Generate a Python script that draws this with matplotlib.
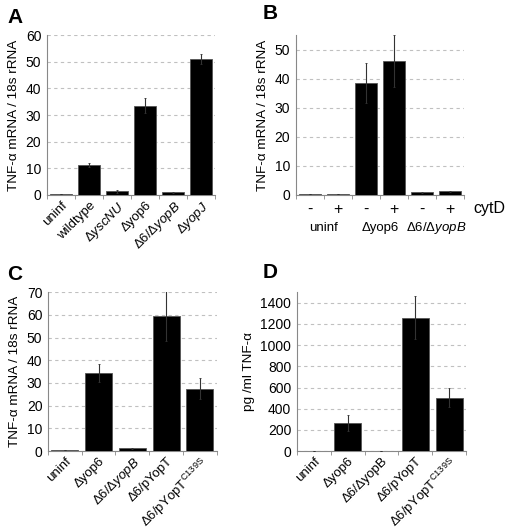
import matplotlib
matplotlib.use('Agg')
import matplotlib.pyplot as plt
import numpy as np

plt.rcParams['font.family'] = ['Liberation Sans', 'DejaVu Sans']
plt.rcParams['mathtext.fontset'] = 'custom'
plt.rcParams['mathtext.rm'] = 'Liberation Sans'
plt.rcParams['mathtext.it'] = 'Liberation Sans:italic'
plt.rcParams['font.size'] = 9.5

# panel A
a_labels = ['uninf', 'wildtype', r'Δ$\it{yscNU}$', 'Δyop6', r'Δ6/Δ$\it{yopB}$', r'Δ$\it{yopJ}$']
a_vals = [0.3, 11.3, 1.4, 33.5, 1.0, 51.0]
a_err = [0.1, 0.8, 0.5, 2.8, 0.3, 2.0]

# panel B
b_ticks = ['-', '+', '-', '+', '-', '+']
b_groups = ['uninf', 'Δyop6', r'Δ6/Δ$\it{yopB}$']
b_vals = [0.4, 0.4, 38.5, 46.0, 0.9, 1.2]
b_err = [0.1, 0.1, 7.0, 9.0, 0.2, 0.3]

# panel C
c_labels = ['uninf', 'Δyop6', r'Δ6/Δ$\it{yopB}$', 'Δ6/pYopT', r'Δ6/pYopT$^{\mathrm{C139S}}$']
c_vals = [0.5, 34.5, 1.2, 59.5, 27.5]
c_err = [0.1, 4.0, 0.3, 11.0, 4.5]

# panel D
d_labels = ['uninf', 'Δyop6', 'Δ6/ΔyopB', 'Δ6/pYopT', r'Δ6/pYopT$^{\mathrm{C139S}}$']
d_vals = [2, 265, 3, 1260, 505]
d_err = [1, 75, 1, 205, 90]

ylab_rna = 'TNF-α mRNA / 18s rRNA'
ylab_pg = 'pg /ml TNF-α'

fig = plt.figure(figsize=(5.1, 5.32), dpi=100)


def panel(rect, vals, err, ymax, yticks, ylabel):
    ax = fig.add_axes(rect)
    x = np.arange(len(vals))
    ax.bar(x, vals, width=0.8, color='black', edgecolor='#555555', linewidth=0.6, zorder=3)
    ax.errorbar(x, vals, yerr=err, fmt='none', ecolor='#333333', elinewidth=0.8,
                capsize=1, capthick=0.6, zorder=4)
    ax.set_xlim(-0.5, len(vals) - 0.5)
    ax.set_ylim(0, ymax)
    ax.set_yticks(yticks)
    ax.yaxis.grid(True, linestyle=(0, (3, 3)), color='#c0c0c0', linewidth=0.8, zorder=0)
    for s in ['top', 'right']:
        ax.spines[s].set_visible(False)
    for s in ['left', 'bottom']:
        ax.spines[s].set_color('#888888')
    ax.set_xticks(x)
    ax.set_xticks(np.arange(len(vals) + 1) - 0.5, minor=True)
    ax.tick_params(axis='x', which='major', length=0, labelsize=9.5, pad=3)
    ax.tick_params(axis='x', which='minor', length=3, color='#888888')
    ax.tick_params(axis='y', length=0, labelsize=10, pad=4)
    ax.set_ylabel(ylabel, fontsize=9.7, labelpad=4)
    return ax


def rotlabels(ax, labels):
    ax.set_xticklabels(labels, rotation=45, ha='right', va='top', rotation_mode='anchor')


axA = panel([0.092, 0.6335, 0.33, 0.3005], a_vals, a_err, 60, range(0, 61, 10), ylab_rna)
rotlabels(axA, a_labels)

axB = panel([0.580, 0.6335, 0.33, 0.3005], b_vals, b_err, 55, range(0, 51, 10), ylab_rna)
axB.set_xticklabels(b_ticks, fontsize=11.5)
axB.tick_params(axis='x', which='major', pad=5)
for i, g in enumerate(b_groups):
    axB.text(2 * i + 0.5, -11.2, g, ha='center', va='center', fontsize=9.5, clip_on=False)
axB.text(5.82, -4.6, 'cytD', ha='left', va='center', fontsize=11.5, clip_on=False)

axC = panel([0.094, 0.152, 0.331, 0.299], c_vals, c_err, 70, range(0, 71, 10), ylab_rna)
rotlabels(axC, c_labels)

axD = panel([0.582, 0.152, 0.332, 0.299], d_vals, d_err, 1500, range(0, 1401, 200), ylab_pg)
rotlabels(axD, d_labels)

for lt, xx, yy in [('A', 0.014, 0.957), ('B', 0.514, 0.965), ('C', 0.014, 0.474), ('D', 0.514, 0.477)]:
    fig.text(xx, yy, lt, fontsize=15, fontweight='bold', ha='left', va='baseline')

fig.savefig('out.png', dpi=100)
